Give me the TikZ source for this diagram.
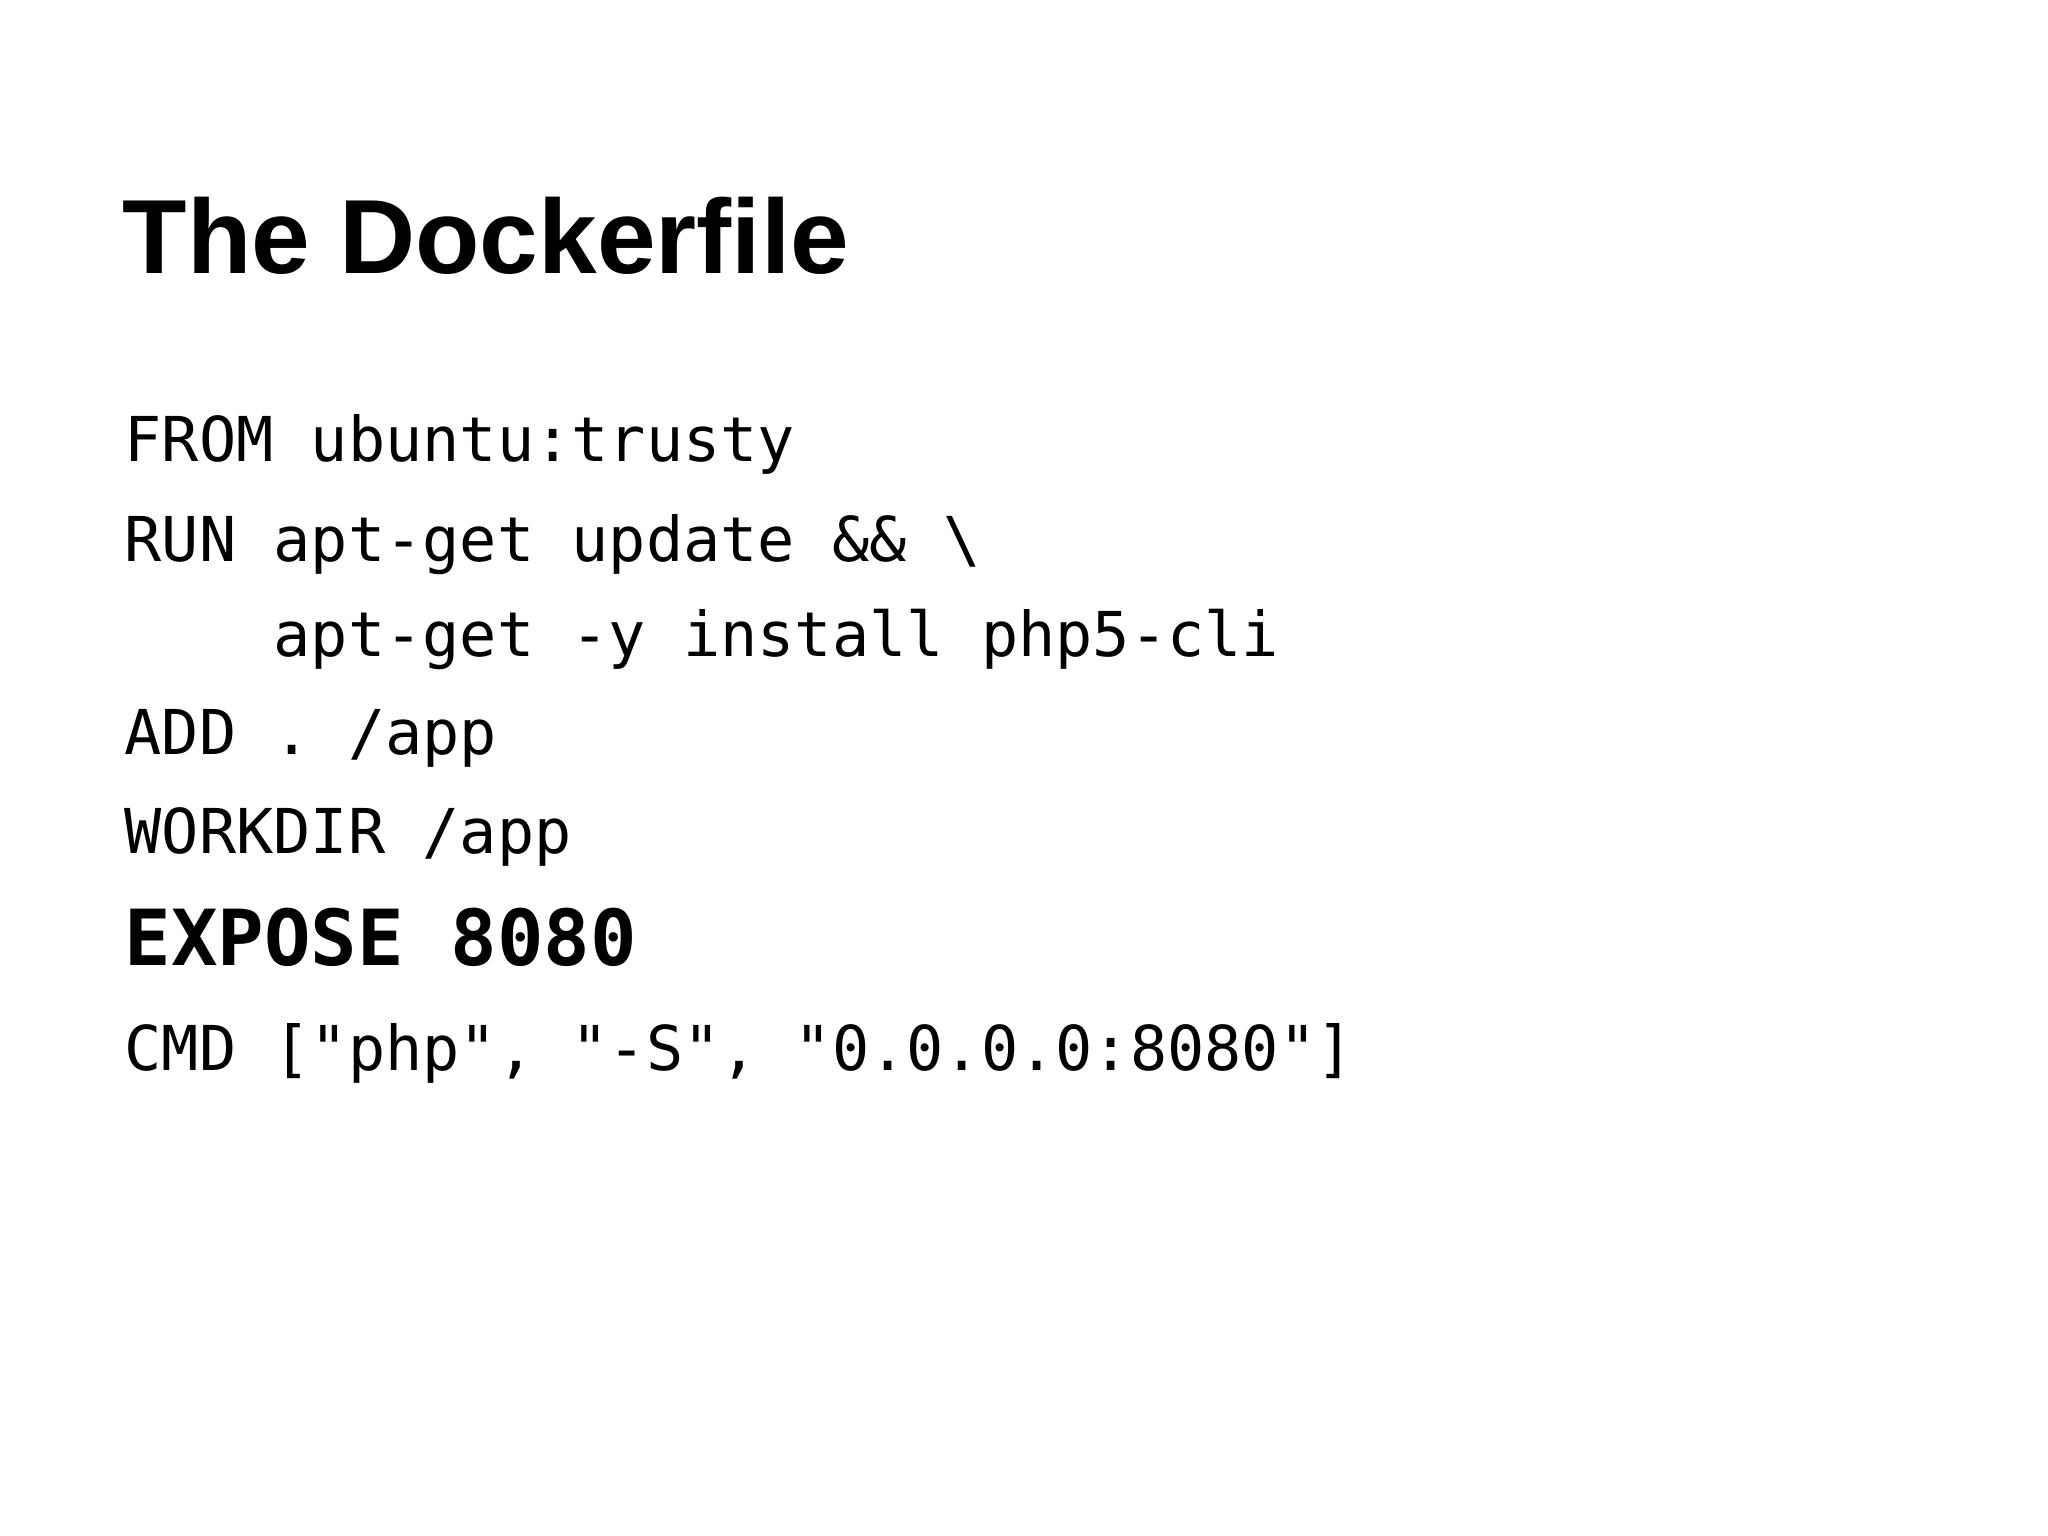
\documentclass[tikz,border=0pt]{standalone}
\usepackage{fontspec}
\setmainfont{Liberation Sans}
\setmonofont{DejaVu Sans Mono}
\begin{document}
\begin{tikzpicture}[x=1cm,y=1cm,
  codeline/.style={anchor=base west,inner sep=0pt,font=\ttfamily\fontsize{17.6}{20}\selectfont}]
\useasboundingbox[fill=white] (0,0) rectangle (20.48,15.36);
\node[anchor=base west,inner sep=0pt,font=\bfseries\fontsize{30}{36}\selectfont] (title) at (1.22,12.62) {The Dockerfile};
\node[codeline] (l1) at (1.24,10.74) {FROM ubuntu:trusty};
\node[codeline] (l2) at (1.24,9.74) {RUN apt-get update \&\& \textbackslash};
\node[codeline] (l3) at (1.24,8.79) {\ \ \ \ apt-get -y install php5-cli};
\node[codeline] (l4) at (1.24,7.81) {ADD . /app};
\node[codeline] (l5) at (1.24,6.82) {WORKDIR /app};
\node[codeline,font=\ttfamily\bfseries\fontsize{22}{26}\selectfont] (l6) at (1.24,5.70) {EXPOSE 8080};
\node[codeline] (l7) at (1.24,4.65) {CMD ["php", "-S", "0.0.0.0:8080"]};
\end{tikzpicture}
\end{document}
